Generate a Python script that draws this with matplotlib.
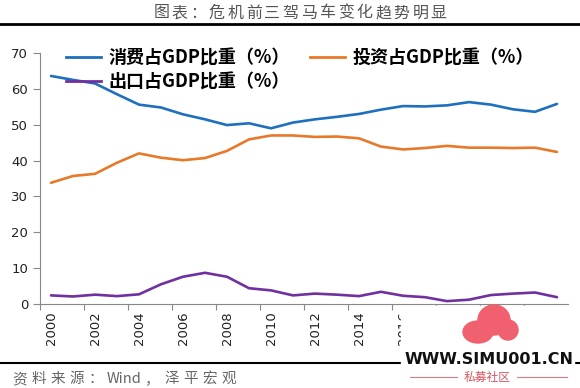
import matplotlib
matplotlib.use("Agg")
import matplotlib.pyplot as plt
from matplotlib.lines import Line2D
from matplotlib.patches import Rectangle, Ellipse

plt.rcParams['font.family'] = ['Noto Sans CJK SC', 'DejaVu Sans']

# data
years = list(range(2000, 2024))
consumption = [63.6, 62.5, 61.5, 58.5, 55.6, 54.8, 52.9, 51.5, 49.9, 50.4, 49.0, 50.6,
               51.5, 52.2, 53.0, 54.2, 55.2, 55.1, 55.4, 56.3, 55.6, 54.3, 53.6, 55.8]
investment = [33.8, 35.7, 36.3, 39.4, 42.0, 40.8, 40.1, 40.7, 42.7, 45.9, 47.0, 47.0,
              46.6, 46.7, 46.2, 43.9, 43.1, 43.5, 44.1, 43.6, 43.6, 43.5, 43.6, 42.4]
exports = [2.4, 2.1, 2.6, 2.2, 2.7, 5.5, 7.6, 8.7, 7.6, 4.4, 3.8, 2.4,
           2.9, 2.6, 2.2, 3.4, 2.3, 1.9, 0.8, 1.2, 2.5, 2.9, 3.2, 1.9]
labels = ["消费占GDP比重（%）", "投资占GDP比重（%）", "出口占GDP比重（%）"]
colors = ["#1f6fbf", "#e8792a", "#7030a0"]
title = "图表：危机前三驾马车变化趋势明显"
source = ["资", "料", "来", "源", "：", "Wind", "，", "泽", "平", "宏", "观"]

W, H = 580, 388
fig = plt.figure(figsize=(W / 100, H / 100), dpi=100)
ax = fig.add_axes([40 / W, (H - 304) / H, 528 / W, 251 / H])


def spaced_text(x0, y, parts, pitch, **kw):
    # lay pieces out one by one, like the letter-spaced original
    x = x0
    for ch in parts:
        step = pitch if ord(ch[0]) > 0x2000 else pitch * 0.5 * len(ch)
        fig.text((x + step / 2) / W, 1 - y / H, ch, ha='center', va='center', **kw)
        x += step


idx = list(range(len(years)))
for vals, c in zip([consumption, investment, exports], colors):
    ax.plot(idx, vals, color=c, lw=1.9, solid_joinstyle='round', solid_capstyle='round')

ax.set_xlim(-0.5, len(years) - 0.5)
ax.set_ylim(0, 70)
ax.set_yticks(range(0, 71, 10))
ax.set_xticks([i - 0.5 for i in idx[::2]])
ax.set_xticklabels([])
ax.set_xticks(idx[::2], minor=True)
ax.set_xticklabels([str(y) for y in years[::2]], minor=True, rotation=90,
                   family='DejaVu Sans', fontsize=9.5, color='#222222')
ax.tick_params(axis='x', which='minor', length=0, pad=5)
ax.tick_params(axis='x', which='major', length=4.5, color='#888888', width=0.8)
ax.tick_params(axis='y', length=5, color='#888888', width=0.8, labelsize=9.5,
               labelcolor='#222222')
for lab in ax.get_yticklabels():
    lab.set_family('DejaVu Sans')
for s in ['top', 'right']:
    ax.spines[s].set_visible(False)
for s in ['left', 'bottom']:
    ax.spines[s].set_color('#888888')
    ax.spines[s].set_linewidth(0.8)

handles = [Line2D([], [], color=colors[0], lw=2),
           Line2D([], [], color=colors[2], lw=2),
           Line2D([], [], color=colors[1], lw=2)]
fig.legend(handles, [labels[0], labels[2], labels[1]], ncol=2,
           loc='upper left', bbox_to_anchor=(50 / W, 1 - 32 / H),
           frameon=False, handlelength=1.95, handletextpad=0.4,
           columnspacing=1.1, labelspacing=0.3,
           prop={'family': 'Noto Sans CJK SC', 'weight': 'bold', 'size': 13})

# title and rules
spaced_text(152, 13, title, 18.5, fontsize=11.5, color='#555555')
fig.add_artist(Line2D([0, 1], [1 - 24 / H, 1 - 24 / H], color='black', lw=2))
fig.add_artist(Line2D([0, 1], [1 - 363 / H, 1 - 363 / H], color='black', lw=1.5))
spaced_text(10, 379, source, 19, fontsize=10.5, color='#666666')

# watermark
fig.add_artist(Rectangle((401 / W, 0), 173 / W, (H - 305.5) / H, color='white', zorder=5))
for cx, cy, w, h in [(478, 332, 30, 22), (494, 320, 32, 30), (508, 330, 20, 20)]:
    fig.add_artist(Ellipse((cx / W, 1 - cy / H), w / W, h / H, color='#f0606e', zorder=6))
fig.text(489 / W, 1 - 359 / H, "WWW.SIMU001.CN", ha='center', va='center',
         fontsize=11.5, weight='bold', family='DejaVu Sans', color='#111111', zorder=7)
fig.text(487 / W, 1 - 377 / H, "私募社区", ha='center', va='center',
         fontsize=8.5, color='#d9545f', zorder=7)
for xa, xb in [(410, 457), (517, 567)]:
    fig.add_artist(Line2D([xa / W, xb / W], [1 - 377 / H] * 2, color='#e07a85',
                          lw=0.8, zorder=7))

fig.savefig("out.png", dpi=100)
